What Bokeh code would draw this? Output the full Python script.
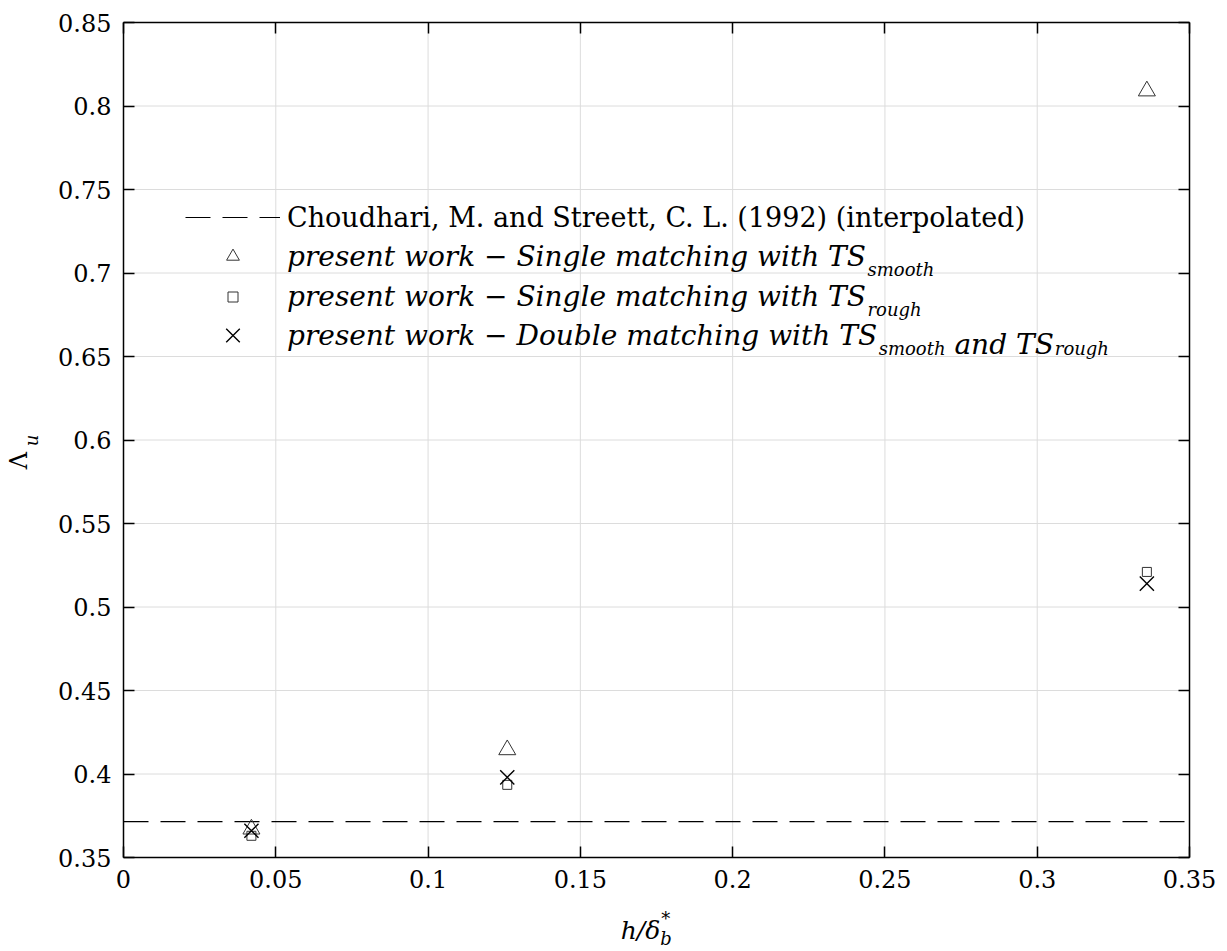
import math
from bokeh.plotting import figure
from bokeh.models import FixedTicker, LinearAxis, Legend, LegendItem, Label, Range1d
from bokeh.embed import file_html
from bokeh.resources import INLINE

# ---------------- data ----------------
h_delta = [0.042, 0.126, 0.336]
lam_single_smooth = [0.367, 0.4145, 0.809]
lam_single_rough = [0.363, 0.3935, 0.521]
lam_double = [0.366, 0.398, 0.514]
ref_h = [0.0, 0.35]
ref_lam = [0.3715, 0.3715]

x_ticks = [0.0, 0.05, 0.1, 0.15, 0.2, 0.25, 0.3, 0.35]
x_tick_labels = ["0", "0.05", "0.1", "0.15", "0.2", "0.25", "0.3", "0.35"]
y_ticks = [0.35, 0.4, 0.45, 0.5, 0.55, 0.6, 0.65, 0.7, 0.75, 0.8, 0.85]
y_tick_labels = ["0.35", "0.4", "0.45", "0.5", "0.55", "0.6", "0.65", "0.7", "0.75", "0.8", "0.85"]

legend_ref = "Choudhari, M. and Streett, C. L. (1992) (interpolated)"
legend_smooth = "present work \u2212 Single matching with TS"
legend_rough = "present work \u2212 Single matching with TS"
legend_double = "present work \u2212 Double matching with TS"
sub_smooth = "smooth"
sub_rough = "rough"
mid_double = "and TS"

FONT = "DejaVu Serif"
W, H = 1227, 951
FL, FR, FT, FB = 123, 1189, 22, 857   # data frame edges in canvas px

x_lo, x_hi = x_ticks[0], x_ticks[-1]
y_lo, y_hi = y_ticks[0], y_ticks[-1]
kx = (x_hi - x_lo) / (FR - FL)
ky = (y_hi - y_lo) / (FB - FT)


def sy(yc):
    return H - yc


def text_w(s, size, italic):
    try:
        from PIL import ImageFont
        import glob
        fname = "DejaVuSerif-Italic.ttf" if italic else "DejaVuSerif.ttf"
        cands = glob.glob("/usr/share/fonts/**/" + fname, recursive=True)
        cands += glob.glob("/usr/local/share/fonts/**/" + fname, recursive=True)
        return ImageFont.truetype(cands[0], size).getlength(s)
    except Exception:
        return 0.56 * size * len(s)


p = figure(width=W, height=H,
           x_range=Range1d(x_lo - FL * kx, x_hi + (W - FR) * kx),
           y_range=Range1d(y_lo - (H - FB) * ky, y_hi + FT * ky),
           x_axis_type=None, y_axis_type=None,
           output_backend="svg", toolbar_location=None, min_border=0)
p.outline_line_color = None
p.background_fill_color = "white"
p.border_fill_color = "white"

# grid lines
p.segment(x0=x_ticks, y0=[y_lo] * len(x_ticks), x1=x_ticks, y1=[y_hi] * len(x_ticks),
          line_color="#dcdcdc", line_width=1)
p.segment(x0=[x_lo] * len(y_ticks), y0=y_ticks, x1=[x_hi] * len(y_ticks), y1=y_ticks,
          line_color="#dcdcdc", line_width=1)


def make_axis(ticks, labels, loc, bounds, show):
    ax = LinearAxis(ticker=FixedTicker(ticks=ticks), fixed_location=loc, bounds=bounds,
                    major_tick_in=11, major_tick_out=0, minor_tick_line_color=None,
                    axis_line_width=1.5, axis_line_color="black",
                    major_tick_line_width=1.5, major_tick_line_color="black",
                    major_label_text_font=FONT, major_label_text_font_size="24px",
                    major_label_standoff=12)
    if show:
        ax.major_label_overrides = {t: l for t, l in zip(ticks, labels)}
        ax.major_label_text_color = "black"
    else:
        ax.major_label_text_color = None
    return ax


p.add_layout(make_axis(x_ticks, x_tick_labels, y_lo, (x_lo, x_hi), True), "below")
p.add_layout(make_axis(y_ticks, y_tick_labels, x_lo, (y_lo, y_hi), True), "left")
p.add_layout(make_axis(x_ticks, x_tick_labels, y_hi, (x_lo, x_hi), False), "above")
p.add_layout(make_axis(y_ticks, y_tick_labels, x_hi, (y_lo, y_hi), False), "right")

r_ref = p.line(ref_h, ref_lam, line_color="black", line_width=1.2, line_dash="25 12")
r_sq = p.scatter(h_delta, lam_single_rough, marker="square", size=9, fill_color=None,
                 line_color="#333333", line_width=1)
r_tri = p.scatter(h_delta, lam_single_smooth, marker="triangle", size=17, fill_color=None,
                  line_color="#333333", line_width=1)
r_x = p.scatter(h_delta, lam_double, marker="x", size=20, line_color="black", line_width=1.4)

LABEL_H = 36
TEXT_X = 287
SZ_UP, SZ_IT, SUB = 27, 28, 18
# label, renderer, row centre (canvas px), style, font size, legend glyph box height
rows = [(legend_ref, r_ref, 217, "normal", SZ_UP, 30),
        (legend_smooth, r_tri, 256, "italic", SZ_IT, 32),
        (legend_rough, r_sq, 296, "italic", SZ_IT, 25),
        (legend_double, r_x, 335, "italic", SZ_IT, 48)]
for label, rend, yc, style, size, gh in rows:
    item_h = max(gh, LABEL_H)
    lg = Legend(items=[LegendItem(label=label, renderers=[rend])],
                location=(185, sy(yc) - item_h / 2), orientation="vertical",
                padding=0, margin=0, spacing=0, glyph_width=95, glyph_height=gh,
                label_height=LABEL_H, label_standoff=7, label_text_font=FONT,
                label_text_font_size=f"{size}px", label_text_font_style=style,
                label_text_color="black", border_line_alpha=0, background_fill_alpha=0)
    p.add_layout(lg)


def add_label(text, xc, yc, size, style, angle=0.0, align="left", baseline="alphabetic"):
    p.add_layout(Label(x=xc, y=sy(yc), x_units="screen", y_units="screen", text=text,
                       text_font=FONT, text_font_size=f"{size}px", text_font_style=style,
                       text_color="black", angle=angle, text_align=align,
                       text_baseline=baseline))


# subscripts in the legend
for yc, main, sub in ((256, legend_smooth, sub_smooth), (296, legend_rough, sub_rough)):
    add_label(sub, TEXT_X + text_w(main, SZ_IT, True) + 1, yc + 13, SUB, "italic")
x1 = TEXT_X + text_w(legend_double, SZ_IT, True) + 1
add_label(sub_smooth, x1, 335 + 13, SUB, "italic")
x2 = x1 + text_w(sub_smooth, SUB, True) + text_w(" ", SZ_IT, True)
add_label(mid_double, x2, 335 + 9, SZ_IT, "italic")
x3 = x2 + text_w(mid_double, SZ_IT, True) + 1
add_label(sub_rough, x3, 335 + 13, SUB, "italic")

# x axis label  h/delta_b^*
xl = "h/\u03b4"
w_xl = text_w(xl, 25, True)
x0 = 645 - (w_xl + 10) / 2
add_label(xl, x0, 930, 25, "italic")
add_label("*", x0 + w_xl + 1, 918, SUB, "normal")
add_label("b", x0 + w_xl, 938, SUB, "italic")

# y axis label  Lambda_u
add_label("\u039b", 18, 460, 24, "normal", angle=math.pi / 2, align="center", baseline="middle")
add_label("u", 31, 440, SUB, "italic", angle=math.pi / 2, align="center", baseline="middle")

open("out.html", "w").write(file_html(p, INLINE))
